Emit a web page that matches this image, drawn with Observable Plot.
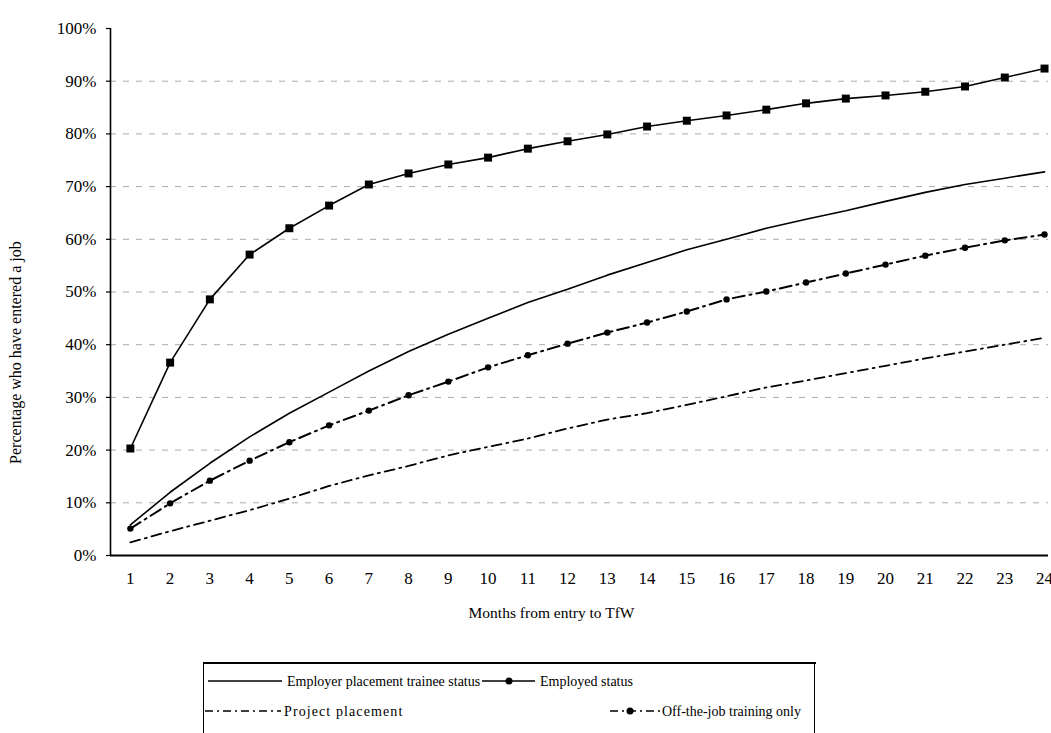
<!DOCTYPE html>
<html><head><meta charset="utf-8">
<script src="https://cdn.jsdelivr.net/npm/d3@7"></script>
<script src="https://cdn.jsdelivr.net/npm/@observablehq/plot@0.6"></script>
<style>
body{margin:0;background:#fff;font-family:"Liberation Serif","Times New Roman",serif;}
#wrap{position:relative;width:1051px;height:733px;overflow:hidden;background:#fff;}
#legend{position:absolute;left:203px;top:662px;}
</style></head>
<body><div id="wrap"><div id="chart"></div><svg id="legend" width="613" height="71"></svg></div>
<script>
// ---- data ----
const months = [1,2,3,4,5,6,7,8,9,10,11,12,13,14,15,16,17,18,19,20,21,22,23,24];
const employerPlacement = [5.8,12,17.5,22.5,27,31,35,38.7,42,45,48,50.5,53.2,55.6,58,60,62.1,63.8,65.4,67.2,68.9,70.4,71.6,72.8];
const employedStatus = [20.3,36.6,48.6,57.1,62.1,66.4,70.4,72.5,74.2,75.5,77.2,78.6,79.9,81.4,82.5,83.5,84.6,85.8,86.7,87.3,88.0,89.0,90.7,92.4];
const projectPlacement = [2.5,4.6,6.6,8.6,10.8,13.2,15.2,17,19,20.6,22.2,24.1,25.8,27,28.6,30.2,31.9,33.2,34.6,36,37.4,38.7,40,41.3];
const offTheJob = [5.1,9.9,14.2,18,21.5,24.7,27.5,30.4,33,35.7,38,40.2,42.3,44.2,46.3,48.6,50.1,51.8,53.5,55.2,56.9,58.4,59.8,60.9];
const yTicks = [0,10,20,30,40,50,60,70,80,90,100];
const gridTicks = [10,20,30,40,50,60,70,80,90];
const seriesNames = ["Employer placement trainee status","Employed status","Project placement","Off-the-job training only"];
const xLabel = "Months from entry to TfW";
const yLabel = "Percentage who have entered a job";

const rows = months.map((m,i)=>({month:m, employer:employerPlacement[i], employed:employedStatus[i], project:projectPlacement[i], offjob:offTheJob[i]}));
const font = '"Liberation Serif","Times New Roman",serif';

const chart = Plot.plot({
  width:1051, height:650,
  marginLeft:110, marginRight:3, marginTop:28, marginBottom:95,
  x:{domain:[0.5,24.1]},
  y:{domain:[0,100]},
  style:{fontFamily:font, fontSize:"17px", background:"white", color:"black"},
  marks:[
    Plot.gridY(gridTicks, {stroke:"#888", strokeOpacity:0.7, strokeWidth:1, strokeDasharray:"6,7"}),
    Plot.axisY(yTicks, {tickFormat:d=>d+"%", tickSize:4, tickPadding:10, label:null, fontSize:17, strokeWidth:1.2}),
    Plot.axisX(months, {tickSize:0, tickPadding:16, label:null, fontSize:17}),
    Plot.ruleY([0], {strokeWidth:2}),
    Plot.ruleX([0.5], {y1:0, y2:100, strokeWidth:1.6}),
    Plot.line(rows, {x:"month", y:"project", stroke:"black", strokeWidth:1.8, strokeDasharray:"10,5,2,5"}),
    Plot.line(rows, {x:"month", y:"offjob", stroke:"black", strokeWidth:2, strokeDasharray:"12,5,2,5"}),
    Plot.dot(rows, {x:"month", y:"offjob", r:3.2, fill:"black", stroke:null}),
    Plot.line(rows, {x:"month", y:"employer", stroke:"black", strokeWidth:1.6}),
    Plot.line(rows, {x:"month", y:"employed", stroke:"black", strokeWidth:1.6}),
    Plot.dot(rows, {x:"month", y:"employed", symbol:"square", r:4.5, fill:"black", stroke:null}),
    Plot.text([xLabel], {text:d=>d, frameAnchor:"bottom", textAnchor:"middle", lineAnchor:"middle", dx:-28, dy:58, fontSize:15.5}),
    Plot.text([yLabel], {text:d=>d, y:[38.5], frameAnchor:"left", textAnchor:"middle", lineAnchor:"middle", dx:-95, rotate:-90, fontSize:16})
  ]
});
document.getElementById("chart").appendChild(chart);

// ---- legend ----
const lg = d3.select("#legend");
lg.append("line").attr("x1",0).attr("x2",613).attr("y1",1).attr("y2",1).attr("stroke","black").attr("stroke-width",2);
lg.append("line").attr("x1",0.5).attr("x2",0.5).attr("y1",0).attr("y2",71).attr("stroke","black");
lg.append("line").attr("x1",611.5).attr("x2",611.5).attr("y1",0).attr("y2",71).attr("stroke","black");
const items = [
  {name:seriesNames[0], x1:5, x2:79, y:19, dash:null, dot:null, tx:84, ls:0},
  {name:seriesNames[1], x1:279, x2:332, y:19, dash:null, dot:306, tx:337, ls:0},
  {name:seriesNames[2], x1:2, x2:78, y:49, dash:"8,4,2,4", dot:null, tx:81, ls:1.1},
  {name:seriesNames[3], x1:407, x2:457, y:49, dash:"8,4,2,4", dot:427, tx:459, ls:0}
];
items.forEach(it=>{
  lg.append("line").attr("x1",it.x1).attr("x2",it.x2).attr("y1",it.y).attr("y2",it.y)
    .attr("stroke","black").attr("stroke-width",1.6).attr("stroke-dasharray",it.dash);
  if (it.dot!=null) lg.append("circle").attr("cx",it.dot).attr("cy",it.y).attr("r",3.5).attr("fill","black");
  lg.append("text").attr("x",it.tx).attr("y",it.y).attr("dy","0.35em").attr("font-size",14)
    .attr("letter-spacing",it.ls).attr("font-family",font).text(it.name);
});
</script>
</body></html>
